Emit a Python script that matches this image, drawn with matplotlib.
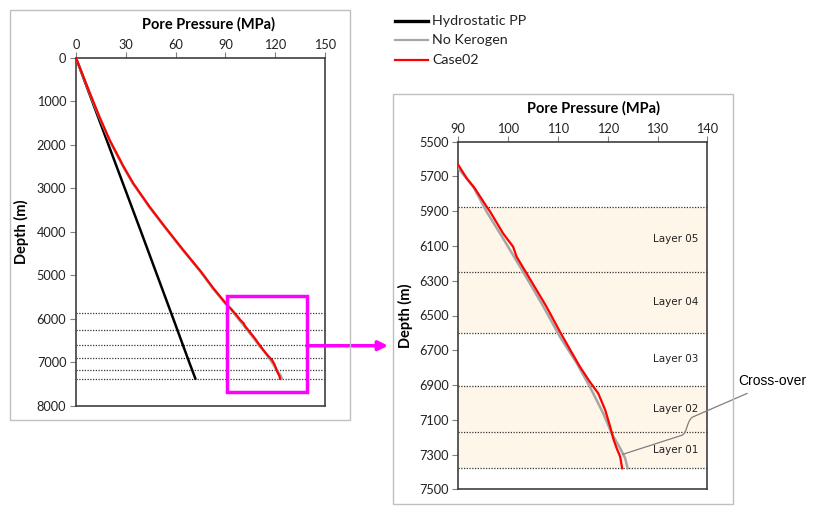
import numpy as np
import matplotlib
matplotlib.use("Agg")
import matplotlib.pyplot as plt
from matplotlib.patches import Rectangle, PathPatch
from matplotlib.path import Path
from matplotlib.lines import Line2D

# data
hydro_depth = [0, 1000, 2000, 3000, 4000, 5000, 6000, 7000, 7375]
hydro_pp = [0, 9.8, 19.6, 29.4, 39.2, 48.9, 58.6, 68.2, 71.9]

case02_depth = [0, 736, 1000, 1350, 1887, 2501, 2884, 3421, 3881, 4418, 4917, 5300,
                5634, 5711, 5768, 5874, 5903, 6028, 6104, 6162, 6257, 6449, 6593, 6679,
                6794, 6881, 6948, 7044, 7140, 7207, 7264, 7312, 7379]
case02_pp = [0, 7.6, 10.4, 14.1, 20.3, 28.7, 34.5, 44.3, 53.5, 64.6, 75.3, 82.8,
             90.0, 91.7, 93.3, 95.7, 96.4, 99.0, 101.0, 101.7, 103.7, 107.7, 110.4, 112.1,
             114.4, 116.4, 118.1, 119.5, 120.5, 121.1, 121.8, 122.5, 122.9]

nokero_depth = [0, 736, 1000, 1350, 1887, 2501, 2884, 3421, 3881, 4418, 4917, 5300,
                5653, 5759, 5903, 6057, 6248, 6449, 6622, 6775, 6909, 7063, 7178, 7264,
                7321, 7379]
nokero_pp = [0, 7.5, 10.2, 13.9, 20.0, 28.4, 34.2, 44.0, 53.2, 64.3, 75.0, 82.4,
             90.0, 93.0, 95.7, 99.0, 103.0, 107.1, 110.4, 113.8, 116.4, 119.1, 120.8, 122.5,
             123.5, 124.0]

layer_tops = [5875, 6250, 6600, 6905, 7168]
layer_bases = [6250, 6600, 6905, 7168, 7378]
layer_names = ["Layer 05", "Layer 04", "Layer 03", "Layer 02", "Layer 01"]
layer_shaded = [True, True, False, True, True]

series_names = ["Hydrostatic PP", "No Kerogen", "Case02"]

FONT = "Lato"
SHADE = "#FEF6E8"
GRAY = "#A6A6A6"
RED = "#FF0000"

fig = plt.figure(figsize=(8.15, 5.14), dpi=100)

def px(x, y):
    return x / 815, 1 - y / 514

# chart area frames
for (x0, y0, x1, y1) in [(10, 10, 350, 420), (393, 94, 733, 504)]:
    fig.patches.append(Rectangle(px(x0, y1), (x1 - x0) / 815, (y1 - y0) / 514,
                                 transform=fig.transFigure, fill=False,
                                 edgecolor="#BFBFBF", lw=1))

axL = fig.add_axes([76 / 815, 1 - 405.7 / 514, 249 / 815, 347.7 / 514])
axR = fig.add_axes([458.3 / 815, 1 - 489.3 / 514, 249 / 815, 347.6 / 514])


def style(ax, xt, yt):
    ax.set_xticks(xt)
    ax.set_yticks(yt)
    ax.xaxis.tick_top()
    ax.tick_params(axis="both", direction="out", length=4, width=0.8, color="#808080",
                   labelsize=9.2, labelcolor="#222222")
    ax.tick_params(axis="x", pad=1)
    ax.tick_params(axis="y", pad=3)
    for lab in ax.get_xticklabels() + ax.get_yticklabels():
        lab.set_fontfamily(FONT)
    for s in ax.spines.values():
        s.set_color("#404040")
        s.set_linewidth(1.2)
    ax.set_xlabel("Pore Pressure (MPa)", fontsize=10.5, fontweight="bold", fontfamily=FONT)
    ax.xaxis.set_label_position("top")
    ax.set_ylabel("Depth (m)", fontsize=10.5, fontweight="bold", fontfamily=FONT)


def draw_series(ax):
    ax.plot(hydro_pp, hydro_depth, color="black", lw=1.8, zorder=3)
    ax.plot(nokero_pp, nokero_depth, color=GRAY, lw=1.8, zorder=3)
    ax.plot(case02_pp, case02_depth, color=RED, lw=1.6, zorder=4)


# left chart
draw_series(axL)
for d in layer_tops + [layer_bases[-1]]:
    axL.axhline(d, color="#333333", lw=0.9, ls=(0, (1, 1.2)), zorder=2)
axL.set_xlim(0, 150)
axL.set_ylim(8000, 0)
style(axL, np.arange(0, 151, 30), np.arange(0, 8001, 1000))
axL.xaxis.set_label_coords(0.533, 1.086)
axL.yaxis.set_label_coords(-0.189, 0.5)

# zoom box and arrow
axL.add_patch(Rectangle((90.8, 5470), 48.2, 2220, fill=False, edgecolor="#FF00FF",
                        lw=2.5, clip_on=False, zorder=5))
axL.annotate("", xy=px(388, 345.7), xycoords="figure fraction",
             xytext=(139, 6620), textcoords="data",
             arrowprops=dict(arrowstyle="-|>", color="#FF00FF", lw=2.5,
                             shrinkA=0, shrinkB=0, mutation_scale=14))

# right chart
for top, base, shaded, name in zip(layer_tops, layer_bases, layer_shaded, layer_names):
    if shaded:
        axR.axhspan(top, base, color=SHADE, lw=0, zorder=1)
    axR.text(133.7, (top + base) / 2, name, fontsize=7.5, fontfamily="DejaVu Sans",
             color="#222222", ha="center", va="center", zorder=5)
for d in layer_tops + [layer_bases[-1]]:
    axR.axhline(d, color="#333333", lw=0.9, ls=(0, (1, 1.2)), zorder=2)
draw_series(axR)
axR.set_xlim(90, 140)
axR.set_ylim(7500, 5500)
style(axR, np.arange(90, 141, 10), np.arange(5500, 7501, 200))
axR.xaxis.set_label_coords(0.544, 1.085)
axR.yaxis.set_label_coords(-0.182, 0.5)

# cross-over callout
verts = [(122.9, 7300), (134.8, 7190), (136.0, 7180), (135.8, 7110), (137.0, 7085), (148.1, 6947)]
codes = [Path.MOVETO, Path.LINETO, Path.CURVE4, Path.CURVE4, Path.CURVE4, Path.LINETO]
axR.add_patch(PathPatch(Path(verts, codes), fill=False, edgecolor="#7F7F7F", lw=0.9,
                        clip_on=False, zorder=6))
axR.text(146.2, 6875, "Cross-over", fontsize=10, fontfamily="Liberation Sans",
         ha="left", va="center", clip_on=False)

# legend (placed by hand, like the Excel legend)
legend_styles = [("black", 2.4), (GRAY, 1.6), (RED, 1.6)]
for i, (name, (col, lw)) in enumerate(zip(series_names, legend_styles)):
    y = 21 + i * 19.5
    fig.add_artist(Line2D([395 / 815, 428 / 815], [1 - y / 514] * 2, color=col, lw=lw,
                          transform=fig.transFigure))
    fig.text(432 / 815, 1 - y / 514, name, fontsize=10.3, fontfamily=FONT,
             color="#222222", ha="left", va="center")

fig.savefig("out.png", dpi=100)
